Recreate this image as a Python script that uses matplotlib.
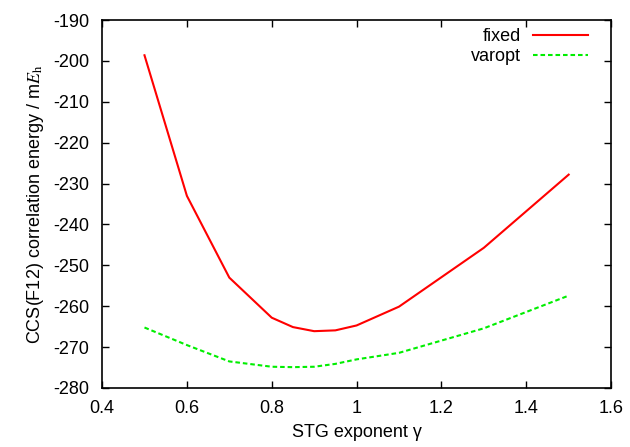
import matplotlib
matplotlib.use("Agg")
import matplotlib.pyplot as plt

# STG exponent values and correlation energies (mE_h)
gamma = [0.5, 0.6, 0.7, 0.8, 0.85, 0.9, 0.95, 1.0, 1.1, 1.3, 1.5]
fixed = [-198.6, -233.0, -253.0, -262.8, -265.1, -266.1, -265.9, -264.7, -260.1, -245.7, -227.8]
varopt = [-265.2, -269.5, -273.5, -274.8, -274.9, -274.8, -274.1, -273.0, -271.4, -265.4, -257.4]

xticks = [0.4, 0.6, 0.8, 1.0, 1.2, 1.4, 1.6]
xticklabels = ["0.4", "0.6", "0.8", "1", "1.2", "1.4", "1.6"]
yticks = list(range(-280, -189, 10))

plt.rcParams["font.family"] = ["Liberation Sans", "DejaVu Sans"]
plt.rcParams["mathtext.fontset"] = "stix"
plt.rcParams["axes.unicode_minus"] = False
plt.rcParams["font.size"] = 13

fig = plt.figure(figsize=(6.3, 4.47), dpi=100)
ax = fig.add_axes([0.162, 0.132, 0.808, 0.823])

ax.plot(gamma, fixed, color="#ff0000", linewidth=1.5, label="fixed")
ax.plot(gamma, varopt, color="#00ee00", linewidth=1.5, linestyle=(0, (2.2, 1.4)), label="varopt")

ax.set_xlim(0.4, 1.6)
ax.set_ylim(-280, -190)
ax.set_xticks(xticks)
ax.set_xticklabels(xticklabels)
ax.set_yticks(yticks)
ax.tick_params(direction="in", length=5, width=1, top=True, right=True, pad=9)
for s in ax.spines.values():
    s.set_linewidth(1.2)

ax.set_xlabel("STG exponent γ", labelpad=5)
ax.set_ylabel(r"CCS(F12) correlation energy / m$E_{\rm h}$", labelpad=5)

ax.legend(loc="upper right", bbox_to_anchor=(0.961, 0.988), frameon=False,
          markerfirst=False, handlelength=3.0, borderaxespad=0, borderpad=0.2,
          labelspacing=0.15, handletextpad=0.7)

fig.savefig("out.png", dpi=100)
